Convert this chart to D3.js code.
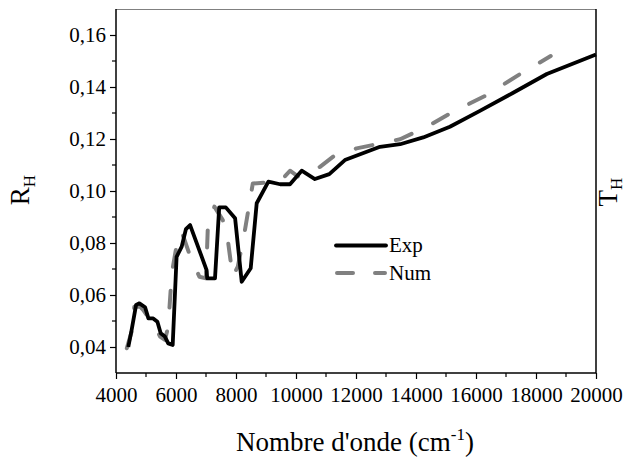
<!DOCTYPE html>
<html><head><meta charset="utf-8">
<script src="https://cdn.jsdelivr.net/npm/d3@7"></script>
<style>
html,body{margin:0;padding:0;background:#fff;}
svg text{font-family:"Liberation Serif","DejaVu Serif",serif !important;fill:#000;}
</style></head>
<body>
<svg id="c" width="626" height="459"></svg>
<script>
const expX = [4410, 4520, 4670, 4780, 4970, 5080, 5240, 5380, 5490, 5630, 5740, 5890, 6020, 6190, 6330, 6470, 7020, 7040, 7300, 7440, 7660, 7970, 8190, 8490, 8690, 9080, 9470, 9800, 10190, 10630, 11110, 11630, 12800, 13470, 14240, 15130, 16130, 17240, 18360, 20000];
const expY = [0.040, 0.0465, 0.0562, 0.0568, 0.0553, 0.051, 0.051, 0.0497, 0.0453, 0.044, 0.0414, 0.0408, 0.0747, 0.0786, 0.0853, 0.0869, 0.0696, 0.0664, 0.0664, 0.0937, 0.0937, 0.0895, 0.0651, 0.0703, 0.0953, 0.1036, 0.1026, 0.1026, 0.1078, 0.1046, 0.1065, 0.1119, 0.117, 0.118, 0.1206, 0.1247, 0.1308, 0.1378, 0.145, 0.1525];
const numX = [4360, 4520, 4610, 4800, 4910, 5300, 5470, 5630, 5740, 5860, 6080, 6190, 6440, 6780, 7000, 7060, 7280, 7560, 7720, 7890, 8060, 8280, 8560, 9470, 9800, 10080, 10800, 11240, 12020, 12690, 13470, 14360, 15240, 16360, 17470, 18490];
const numY = [0.0395, 0.0459, 0.0555, 0.0555, 0.0542, 0.0478, 0.044, 0.0427, 0.0478, 0.0683, 0.0831, 0.0843, 0.076, 0.067, 0.0664, 0.0857, 0.094, 0.0888, 0.0818, 0.067, 0.0709, 0.0837, 0.1029, 0.1036, 0.1078, 0.1055, 0.1093, 0.1132, 0.1164, 0.118, 0.1199, 0.1247, 0.1305, 0.1369, 0.145, 0.1519];
const xTicks = [4000, 6000, 8000, 10000, 12000, 14000, 16000, 18000, 20000];
const yTicks = [0.04, 0.06, 0.08, 0.10, 0.12, 0.14, 0.16];
const seriesNames = ["Exp", "Num"];

const L = 116, R = 596, T = 9, B = 373;
const svg = d3.select("#c");
const x = d3.scaleLinear().domain([4000, 20000]).range([L, R]);
const y = d3.scaleLinear().domain([0.03, 0.17]).range([B, T]);

// frame top/right
svg.append("line").attr("x1", L).attr("x2", R).attr("y1", T + 0.5).attr("y2", T + 0.5)
  .attr("stroke", "#808080").attr("stroke-width", 1);
svg.append("line").attr("x1", R).attr("x2", R).attr("y1", T).attr("y2", B)
  .attr("stroke", "#000").attr("stroke-width", 1.5);

// x axis
const xMinor = d3.range(5000, 20000, 2000);
const gx = svg.append("g").attr("transform", `translate(0,${B})`);
gx.call(d3.axisBottom(x).tickValues(xTicks).tickSize(6).tickPadding(8).tickFormat(d3.format("d")));
gx.attr("font-size", 21);
gx.selectAll(".minor").data(xMinor).enter().append("line").attr("class", "minor")
  .attr("x1", d => x(d)).attr("x2", d => x(d)).attr("y1", 0).attr("y2", 4)
  .attr("stroke", "#000").attr("stroke-width", 1.2);
gx.select(".domain").attr("stroke-width", 1.5).attr("d", `M${L},0H${R}`);
gx.selectAll(".tick line").attr("stroke-width", 1.2);
gx.selectAll(".tick text").style("font-size", "21px");

// y axis
const yMinor = [0.05, 0.07, 0.09, 0.11, 0.13, 0.15];
const gy = svg.append("g").attr("transform", `translate(${L},0)`);
gy.call(d3.axisLeft(y).tickValues(yTicks).tickSize(6).tickPadding(4)
  .tickFormat(d => d3.format(".2f")(d).replace(".", ",")));
gy.attr("font-size", 21);
gy.selectAll(".minor").data(yMinor).enter().append("line").attr("class", "minor")
  .attr("x1", 0).attr("x2", -4).attr("y1", d => y(d)).attr("y2", d => y(d))
  .attr("stroke", "#000").attr("stroke-width", 1.2);
gy.select(".domain").attr("stroke-width", 1.5).attr("d", `M0,${T}V${B}`);
gy.selectAll(".tick line").attr("stroke-width", 1.2);
gy.selectAll(".tick text").style("font-size", "21px");

// series
const line = d3.line().x(d => x(d[0])).y(d => y(d[1]));
const numData = numX.map((v, i) => [v, numY[i]]);
const expData = expX.map((v, i) => [v, expY[i]]);
svg.append("path").datum(numData).attr("d", line).attr("fill", "none")
  .attr("stroke", "#808080").attr("stroke-width", 4).attr("stroke-dasharray", "17,24")
  .attr("stroke-linecap", "round").attr("stroke-linejoin", "round");
svg.append("path").datum(expData).attr("d", line).attr("fill", "none")
  .attr("stroke", "#000").attr("stroke-width", 3.8)
  .attr("stroke-linejoin", "round");

// legend
const lg = svg.append("g");
lg.append("line").attr("x1", 336).attr("x2", 386).attr("y1", 245.5).attr("y2", 245.5)
  .attr("stroke", "#000").attr("stroke-width", 3.8).attr("stroke-linecap", "round");
lg.append("line").attr("x1", 337).attr("x2", 385).attr("y1", 273).attr("y2", 273)
  .attr("stroke", "#808080").attr("stroke-width", 4).attr("stroke-dasharray", "16,22")
  .attr("stroke-linecap", "round");
lg.append("text").attr("x", 389).attr("y", 252).attr("font-size", 21).text(seriesNames[0]);
lg.append("text").attr("x", 389).attr("y", 280).attr("font-size", 21).text(seriesNames[1]);

// axis titles
const xt = svg.append("text").attr("x", 355).attr("y", 451).attr("text-anchor", "middle").attr("font-size", 27);
xt.append("tspan").text("Nombre d'onde (cm");
xt.append("tspan").attr("font-size", 17).attr("dy", -11).text("-1");
xt.append("tspan").attr("dy", 11).text(")");

const yt = svg.append("text").attr("transform", "translate(29,190) rotate(-90)")
  .attr("text-anchor", "middle").attr("font-size", 27);
yt.append("tspan").text("R");
yt.append("tspan").attr("font-size", 17).attr("dy", 6).text("H");

const rt = svg.append("text").attr("transform", "translate(617,192) rotate(-90)")
  .attr("text-anchor", "middle").attr("font-size", 27);
rt.append("tspan").text("T");
rt.append("tspan").attr("font-size", 17).attr("dy", 5).text("H");
</script>
</body></html>
